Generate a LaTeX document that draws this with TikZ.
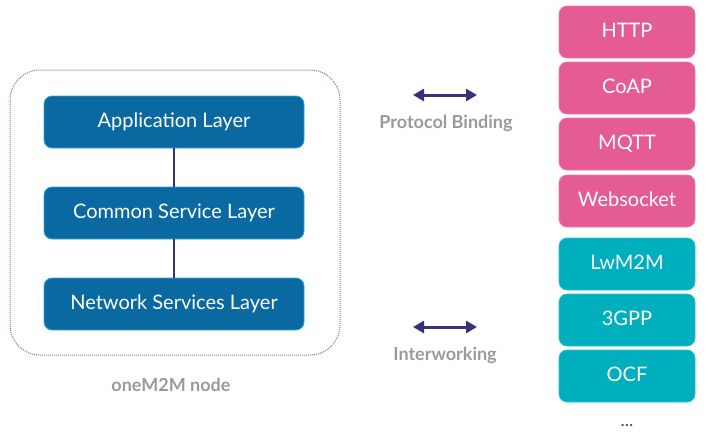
\documentclass[tikz,border=0pt]{standalone}
\usepackage{fontspec}
\setmainfont{Lato}
\usetikzlibrary{arrows.meta}
\definecolor{layerblue}{HTML}{0A69A1}
\definecolor{layeredge}{HTML}{2FA8D8}
\definecolor{bindpink}{HTML}{E55C95}
\definecolor{workteal}{HTML}{00AFBD}
\definecolor{linkpurple}{HTML}{35327A}
\definecolor{captiongray}{HTML}{9A9A9A}
\definecolor{framedots}{HTML}{5A86AA}

\begin{document}
\begin{tikzpicture}[x=1pt,y=-1pt,
	layer/.style={rounded corners=8pt, fill=layerblue, draw=layeredge, line width=0.8pt,
		text=white, minimum width=260pt, minimum height=52pt, text height=14pt, text depth=3pt,
		font=\fontsize{20}{22}\selectfont},
	binding/.style={rounded corners=8pt, fill=bindpink, draw=bindpink!80!white, line width=0.8pt,
		text=white, minimum width=136pt, minimum height=52pt, text height=14pt, text depth=3pt,
		font=\fontsize{20}{22}\selectfont},
	working/.style={binding, fill=workteal, draw=workteal!80!white},
	link/.style={draw=linkpurple, line width=2pt},
	both/.style={draw=linkpurple, line width=3pt, {Triangle[length=11pt,width=12pt]}-{Triangle[length=11pt,width=12pt]}},
	caption/.style={text=captiongray, font=\fontsize{18}{20}\selectfont\bfseries}
]
\useasboundingbox (0,0) rectangle (710,432);

% oneM2M node
\draw[framedots, densely dotted, line width=1pt, rounded corners=30pt] (10,70) rectangle (340,355);
\node[layer] (app) at (174,122) {Application Layer};
\node[layer] (cse) at (174,213) {Common Service Layer};
\node[layer] (nse) at (174,304) {Network Services Layer};
\draw[link] (app) -- (cse);
\draw[link] (cse) -- (nse);
\node[caption] (node) at (171,385) {oneM2M node};

% protocols
\node[binding] (http) at (627,32) {HTTP};
\node[binding] (coap) at (627,88) {CoAP};
\node[binding] (mqtt) at (627,144) {MQTT};
\node[binding] (ws) at (627,201) {Websocket};
\node[working] (lwm2m) at (627,264) {LwM2M};
\node[working] (tgpp) at (627,320) {3GPP};
\node[working] (ocf) at (627,376) {OCF};
\node[text=black!70, font=\fontsize{18}{18}\selectfont] (more) at (627,425) {...};

% arrows
\coordinate (pbl) at (413,95);
\coordinate (pbr) at (477,95);
\draw[both] (pbl) -- (pbr);
\node[caption] (pb) at (446,123) {Protocol Binding};
\coordinate (iwl) at (413,327);
\coordinate (iwr) at (477,327);
\draw[both] (iwl) -- (iwr);
\node[caption] (iw) at (445,355) {Interworking};
\end{tikzpicture}
\end{document}
